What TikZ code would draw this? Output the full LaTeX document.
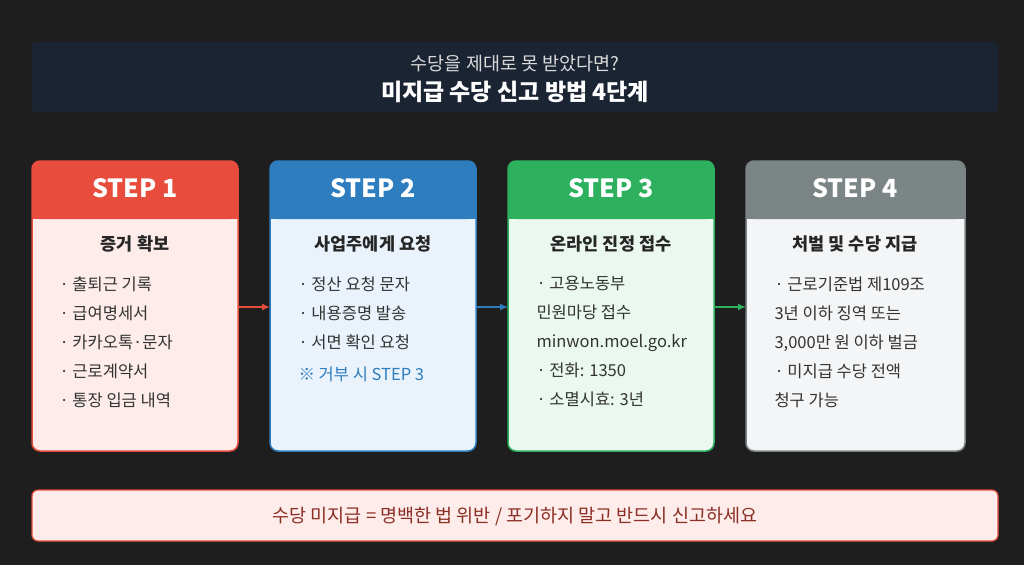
\documentclass[tikz,border=0pt]{standalone}
\usepackage{fontspec}
\setmainfont{Noto Sans CJK KR}
\begin{document}
\begin{tikzpicture}[x=1pt,y=-1pt,
  hdr/.style={font=\bfseries\fontsize{25}{28}\selectfont,text=white},
  ttl/.style={font=\bfseries\fontsize{17.5}{20}\selectfont,text=black!85},
  itm/.style={font=\fontsize{16.5}{29}\selectfont,text=black!80,align=left,anchor=north west},
  arr/.style={-{Latex[length=8pt,width=7pt]},line width=1.5pt}]
\usetikzlibrary{arrows.meta}
\definecolor{bg}{HTML}{1E1E1E}
\definecolor{ban}{HTML}{1B2433}
\definecolor{cr}{HTML}{E74C3C}\definecolor{crl}{HTML}{FDECEA}
\definecolor{cb}{HTML}{2E7DBF}\definecolor{cbl}{HTML}{EAF3FC}
\definecolor{cg}{HTML}{2DB15F}\definecolor{cgl}{HTML}{EAF8EF}
\definecolor{ck}{HTML}{7C8585}\definecolor{ckl}{HTML}{F3F5F6}
\fill[bg] (0,0) rectangle (1024,565);
\useasboundingbox (0,0) rectangle (1024,565);
\fill[ban,rounded corners=4pt] (32,42) rectangle (998,112);
\node[text=white!70!gray,font=\fontsize{18.5}{20}\selectfont] (sub) at (515,64) {수당을 제대로 못 받았다면?};
\node[text=white,font=\bfseries\fontsize{23}{26}\selectfont] (main) at (515,92) {미지급 수당 신고 방법 4단계};
% cards
\foreach \x/\w/\c/\l/\n in {32/206/cr/crl/1,270/206/cb/cbl/2,508/206/cg/cgl/3,746/219/ck/ckl/4}{
  \fill[\l,draw=\c,line width=1.5pt,rounded corners=8pt] (\x,161) rectangle ++(\w,290);
  \fill[\c,rounded corners=8pt] (\x,161) rectangle ++(\w,58);
  \fill[\c] (\x,200) rectangle ++(\w,19);
}
\node[hdr] (h1) at (135,188) {STEP 1};
\node[hdr] (h2) at (373,188) {STEP 2};
\node[hdr] (h3) at (611,188) {STEP 3};
\node[hdr] (h4) at (855,188) {STEP 4};
\node[ttl] (t1) at (135,244) {증거 확보};
\node[ttl] (t2) at (373,244) {사업주에게 요청};
\node[ttl] (t3) at (611,244) {온라인 진정 접수};
\node[ttl] (t4) at (855,244) {처벌 및 수당 지급};
\node[itm] (i1) at (56,273) {· 출퇴근 기록\\· 급여명세서\\· 카카오톡·문자\\· 근로계약서\\· 통장 입금 내역};
\node[itm] (i2) at (295,273) {· 정산 요청 문자\\· 내용증명 발송\\· 서면 확인 요청\\[3pt]{\color{cb}※ 거부 시 STEP 3}};
\node[itm] (i3) at (533,273) {· 고용노동부\\민원마당 접수\\minwon.moel.go.kr\\· 전화: 1350\\· 소멸시효: 3년};
\node[itm] (i4) at (771,273) {· 근로기준법 제109조\\3년 이하 징역 또는\\3,000만 원 이하 벌금\\· 미지급 수당 전액\\청구 가능};
\coordinate (a1) at (238,307);\coordinate (b1) at (270,307);
\coordinate (a2) at (476,307);\coordinate (b2) at (508,307);
\coordinate (a3) at (714,307);\coordinate (b3) at (746,307);
\draw[arr,cr] (a1) -- (b1);
\draw[arr,cb] (a2) -- (b2);
\draw[arr,cg] (a3) -- (b3);
\fill[crl,draw=cr,line width=1.2pt,rounded corners=6pt] (32,490) rectangle (998,541);
\node[text=cr!60!black,font=\fontsize{18.5}{20}\selectfont] (foot) at (515,516) {수당 미지급 = 명백한 법 위반 / 포기하지 말고 반드시 신고하세요};
\end{tikzpicture}
\end{document}
